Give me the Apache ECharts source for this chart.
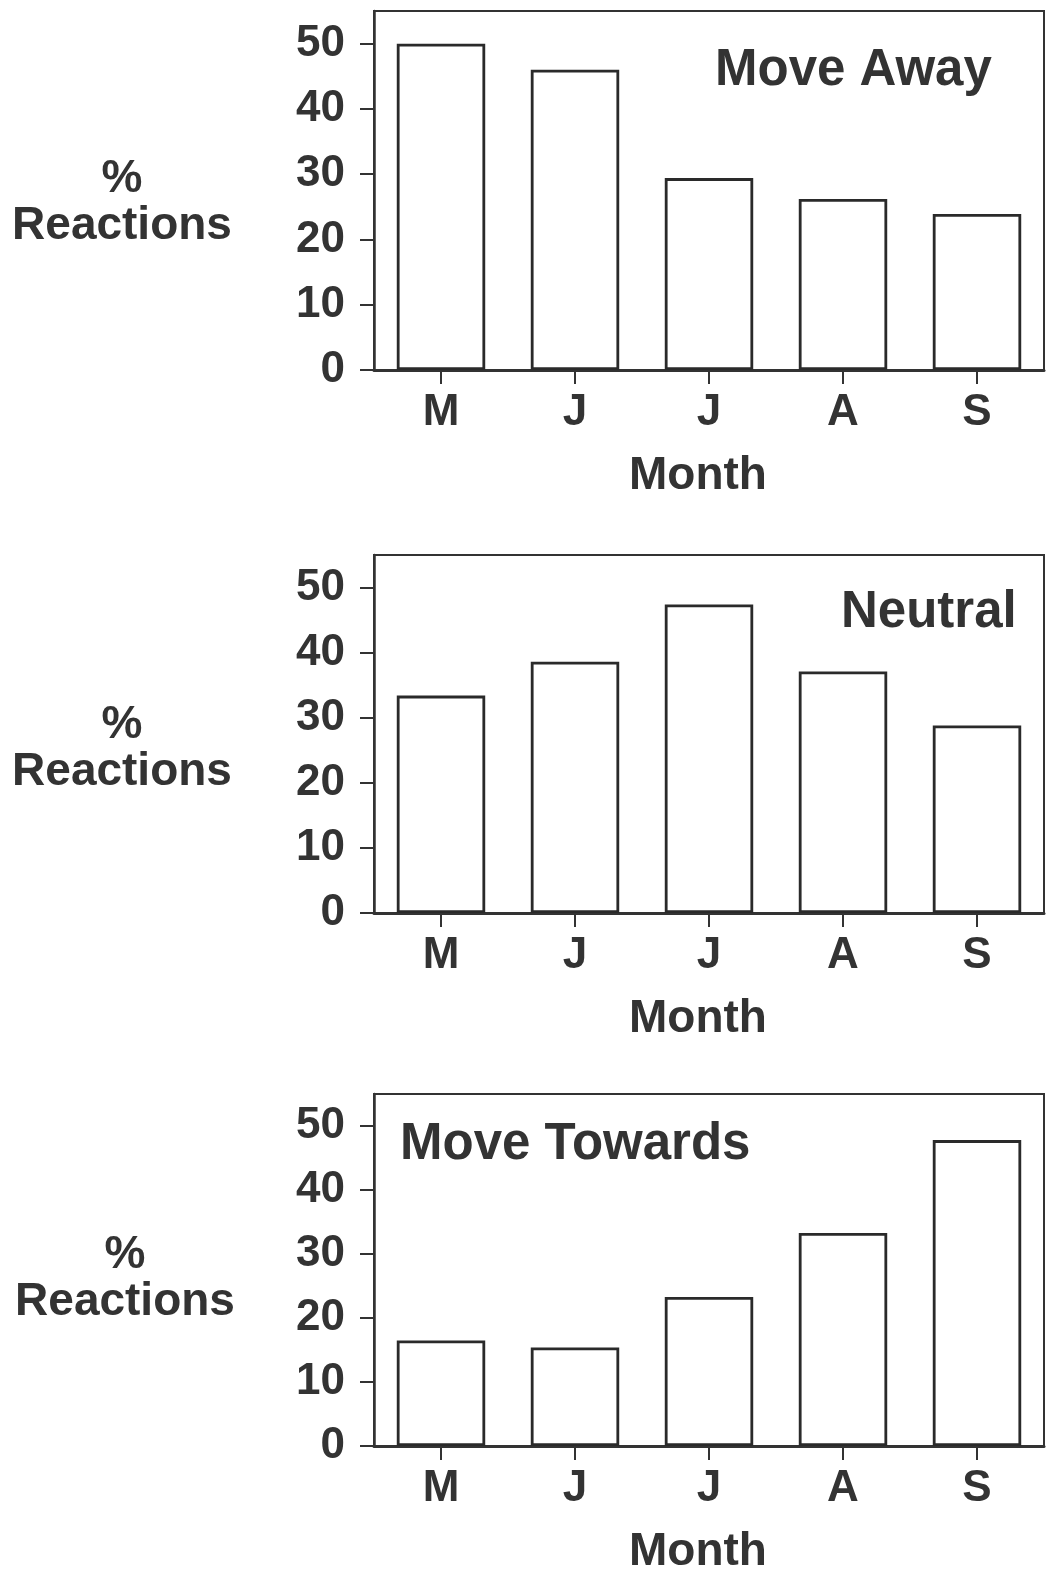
<!DOCTYPE html>
<html>
<head>
<meta charset="utf-8">
<script src="https://cdn.jsdelivr.net/npm/echarts@6/dist/echarts.min.js"></script>
<style>
html,body{margin:0;padding:0;background:#fff;}
#c{width:1046px;height:1576px;}
</style>
</head>
<body>
<div id="c"></div>
<script>
// ---- data ----
const months = ['M', 'J', 'J', 'A', 'S'];
const moveAway = [50, 46, 29.4, 26.2, 23.9];
const neutral = [33.4, 38.6, 47.4, 37.1, 28.8];
const moveTowards = [16.5, 15.4, 23.3, 33.3, 47.8];
const panelTitles = ['Move Away', 'Neutral', 'Move Towards'];
const yTicks = [0, 10, 20, 30, 40, 50];
const xAxisName = 'Month';
const yAxisNameLines = ['%', 'Reactions'];

// ---- layout (not data) ----
const seriesList = [moveAway, neutral, moveTowards];
const grids = [
  {top: 11, height: 359},
  {top: 555, height: 358},
  {top: 1094, height: 359}
];
const titlePos = [
  {left: 715, top: 45},
  {left: 841, top: 587},
  {left: 400, top: 1119}
];
// spacer line heights push the two-line y title down (it is centred on the axis)
const yNameSpacer = [24, 30, 17];
const yNameGap = [252, 252, 249];

const INK = '#333';
const FONT = '"Liberation Sans", Arial, Helvetica, sans-serif';

const chart = echarts.init(document.getElementById('c'), null, {renderer: 'canvas'});

const yName = '{pad| }\n' + yAxisNameLines.map(s => '{t|' + s + '}').join('\n');

const option = {
  backgroundColor: '#fff',
  animation: false,
  title: panelTitles.map((t, i) => ({
    text: t,
    left: titlePos[i].left,
    top: titlePos[i].top,
    padding: 0,
    textStyle: {fontFamily: FONT, fontSize: 51, fontWeight: 'bold', color: INK}
  })),
  grid: grids.map(g => ({
    left: 374, right: 2, top: g.top, height: g.height,
    show: true, borderColor: INK, borderWidth: 2, backgroundColor: 'transparent',
    containLabel: false
  })),
  xAxis: grids.map((g, i) => ({
    type: 'category',
    gridIndex: i,
    data: months,
    name: xAxisName,
    nameLocation: 'middle',
    nameGap: 83,
    nameTextStyle: {fontFamily: FONT, fontSize: 46, fontWeight: 'bold', color: INK, padding: [0, 22, 0, 0]},
    axisLine: {show: true, lineStyle: {color: INK, width: 3}},
    axisTick: {show: true, alignWithLabel: true, length: 14, lineStyle: {color: INK, width: 2}},
    axisLabel: {fontFamily: FONT, fontSize: 44, fontWeight: 'bold', color: INK, margin: 21},
    splitLine: {show: false}
  })),
  yAxis: grids.map((g, i) => ({
    type: 'value',
    gridIndex: i,
    min: 0,
    max: 55,
    interval: 10,
    name: yName,
    nameLocation: 'middle',
    nameRotate: 0,
    nameGap: yNameGap[i],
    nameTextStyle: {
      fontFamily: FONT, fontSize: 46, fontWeight: 'bold', color: INK, align: 'center',
      rich: {
        pad: {fontSize: 10, lineHeight: yNameSpacer[i]},
        t: {fontFamily: FONT, fontSize: 46, fontWeight: 'bold', color: INK, lineHeight: 47, align: 'center'}
      }
    },
    axisLine: {show: true, lineStyle: {color: INK, width: 2.5}},
    axisTick: {show: true, length: 14, customValues: yTicks, lineStyle: {color: INK, width: 2}},
    axisLabel: {fontFamily: FONT, fontSize: 44, fontWeight: 'bold', color: INK, margin: 29, customValues: yTicks},
    splitLine: {show: false}
  })),
  series: seriesList.map((d, i) => ({
    type: 'bar',
    xAxisIndex: i,
    yAxisIndex: i,
    data: d,
    barWidth: '66%',
    itemStyle: {color: '#fff', borderColor: '#2a2a2a', borderWidth: 2.8}
  }))
};

chart.setOption(option);
</script>
</body>
</html>
